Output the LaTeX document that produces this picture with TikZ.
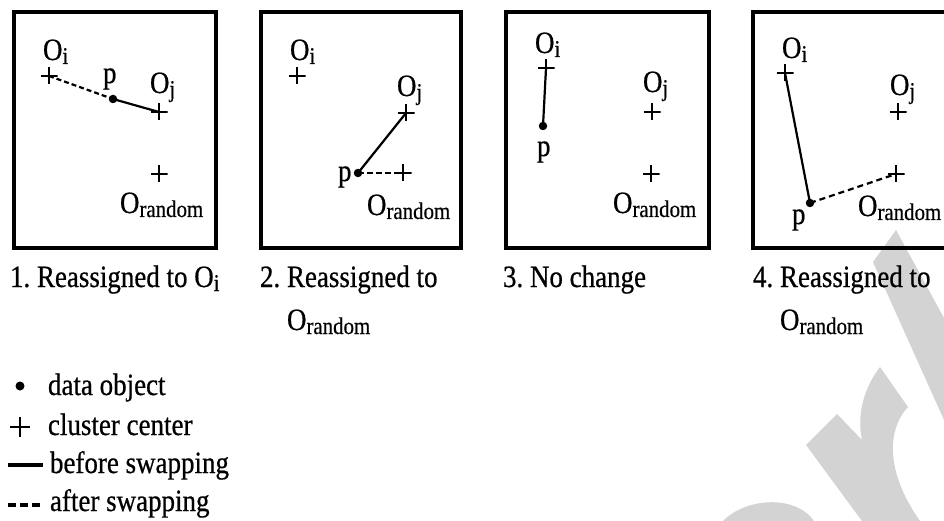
\documentclass[tikz,border=0pt]{standalone}
\usepackage{fontspec}
\setmainfont{Liberation Serif}[FakeStretch=0.87,FakeBold=0.6]
\newcommand\sbx[1]{\raisebox{-4pt}{\fontsize{24}{24}\selectfont #1}}
\definecolor{wm}{RGB}{211,211,211}
\frenchspacing
\begin{document}
\begin{tikzpicture}[x=1pt,y=-1pt,
  every node/.style={inner sep=0pt, outer sep=0pt},
  txt/.style={anchor=base west, font=\fontsize{31}{36}\selectfont},
  ctr/.style={minimum size=17pt, path picture={
      \draw[line width=1.5pt] (path picture bounding box.north) -- (path picture bounding box.south)
        (path picture bounding box.west) -- (path picture bounding box.east);}},
  dot/.style={circle, fill=black, minimum size=8.5pt},
  frame/.style={draw, line width=4.5pt},
  before/.style={line width=2.2pt},
  after/.style={line width=2.2pt, dash pattern=on 5pt off 3pt}]
\path[use as bounding box] (0,0) rectangle (944,521);
\clip (0,0) rectangle (944,521);
% watermark
\fill[wm] (873,262) -- (896,230) -- (944,318) -- (944,420) -- cycle;
\fill[wm] (806,445) -- (837,414) -- (862,440) .. controls (856,412) and (866,385) .. (880,367)
  -- (908,407) .. controls (888,428) and (884,470) .. (920,521) -- (862,521) -- cycle;
\fill[wm] (723,521) .. controls (745,498) and (795,494) .. (814,521) -- cycle;
% frames
\draw[frame] (14,12) rectangle (216,248);
\draw[frame] (261,12) rectangle (461,248);
\draw[frame] (506,12) rectangle (709,248);
\draw[frame] (753,12) rectangle (960,248);
% panel 1
\node[txt] (l1i) at (43,60) {O\sbx{i}};
\node[ctr] (b1i) at (49,76) {};
\node[txt] (l1p) at (103,83) {p};
\node[dot] (b1p) at (113,99) {};
\node[txt] (l1j) at (150,93) {O\sbx{j}};
\node[ctr] (b1j) at (159,112) {};
\node[ctr] (b1r) at (159,174) {};
\node[txt] (l1r) at (120,213) {O\sbx{random}};
\draw[after] (b1i.center) -- (b1p.center);
\draw[before] (b1p.center) -- (b1j.center);
% panel 2
\node[txt] (l2i) at (290,60) {O\sbx{i}};
\node[ctr] (b2i) at (297,76) {};
\node[txt] (l2j) at (397,96) {O\sbx{j}};
\node[ctr] (b2j) at (406,113) {};
\node[dot] (b2p) at (358,173) {};
\node[txt] (l2p) at (338,181) {p};
\node[ctr] (b2r) at (403,173) {};
\node[txt] (l2r) at (367,215) {O\sbx{random}};
\draw[before] (b2j.center) -- (b2p.center);
\draw[after, line width=2.6pt, dash pattern=on 6pt off 3pt] (b2p.center) -- (b2r.center);
% panel 3
\node[txt] (l3i) at (535,53) {O\sbx{i}};
\node[ctr] (b3i) at (546,68) {};
\node[dot] (b3p) at (543,126) {};
\node[txt] (l3p) at (537,156) {p};
\node[txt] (l3j) at (643,92) {O\sbx{j}};
\node[ctr] (b3j) at (652,112) {};
\node[ctr] (b3r) at (651,174) {};
\node[txt] (l3r) at (613,213) {O\sbx{random}};
\draw[before] (b3i.center) -- (b3p.center);
% panel 4
\node[txt] (l4i) at (782,58) {O\sbx{i}};
\node[ctr] (b4i) at (785,73) {};
\node[txt] (l4j) at (890,95) {O\sbx{j}};
\node[ctr] (b4j) at (898,112) {};
\node[ctr] (b4r) at (896,174) {};
\node[dot] (b4p) at (810,203) {};
\node[txt] (l4p) at (792,224) {p};
\node[txt] (l4r) at (858,216) {O\sbx{random}};
\draw[before] (b4i.center) -- (b4p.center);
\draw[after, dash pattern=on 6pt off 4pt] (b4p.center) -- (b4r.center);
% captions
\node[txt] (c1) at (10,287) {1. Reassigned to O\sbx{i}};
\node[txt] (c2) at (260,287) {2. Reassigned to};
\node[txt] (c2b) at (287,330) {O\sbx{random}};
\node[txt] (c3) at (503,287) {3. No change};
\node[txt] (c4) at (753,287) {4. Reassigned to};
\node[txt] (c4b) at (780,330) {O\sbx{random}};
% legend
\node[dot, minimum size=9pt] (ld) at (20,386) {};
\node[txt] (ldt) at (48,395) {data object};
\node[ctr, minimum size=20pt] (lc) at (20,427) {};
\node[txt] (lct) at (48,435) {cluster center};
\coordinate (ls1) at (8,465); \coordinate (ls2) at (43,465);
\draw[line width=4pt] (ls1) -- (ls2);
\node[txt] (lst) at (50,473) {before swapping};
\coordinate (la1) at (8,505); \coordinate (la2) at (43,505);
\draw[line width=4pt, dash pattern=on 8pt off 4pt] (la1) -- (la2);
\node[txt] (lat) at (50,511) {after swapping};
\end{tikzpicture}
\end{document}
